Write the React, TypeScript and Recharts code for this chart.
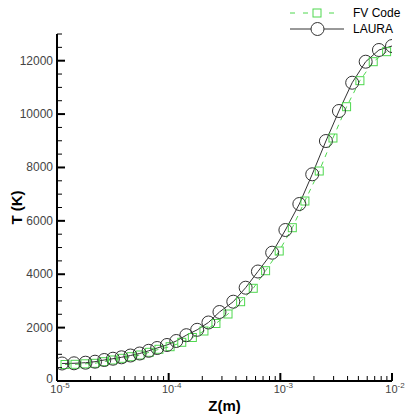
import { Legend, Line, LineChart, XAxis, YAxis } from "recharts";

// LAURA solution (black line, circle markers)
const lauraZ = [
  1.11e-5, 1.42e-5, 1.8e-5, 2.19e-5, 2.65e-5, 3.17e-5, 3.78e-5, 4.55e-5, 5.5e-5, 6.62e-5,
  7.89e-5, 9.66e-5, 1.17e-4, 1.44e-4, 1.8e-4, 2.27e-4, 2.85e-4, 3.79e-4, 4.89e-4, 6.3e-4,
  8.45e-4, 1.11e-3, 1.48e-3, 1.93e-3, 2.56e-3, 3.35e-3, 4.4e-3, 5.81e-3, 7.64e-3, 1.0e-2,
];
const lauraT = [
  656, 663, 686, 723, 787, 835, 888, 955, 1030, 1131,
  1236, 1349, 1499, 1716, 1918, 2192, 2585, 2971, 3495, 4102,
  4807, 5657, 6631, 7744, 8991, 10115, 11175, 11962, 12401, 12550,
];

// FV Code solution (green dashed line, square markers)
const fvZ = [
  1.18e-5, 1.45e-5, 1.78e-5, 2.17e-5, 2.61e-5, 3.14e-5, 3.8e-5, 4.6e-5, 5.54e-5, 6.7e-5,
  8.18e-5, 1.03e-4, 1.31e-4, 1.63e-4, 2.07e-4, 2.65e-4, 3.4e-4, 4.41e-4, 5.72e-4, 7.38e-4,
  9.77e-4, 1.28e-3, 1.66e-3, 2.23e-3, 2.96e-3, 3.92e-3, 5.16e-3, 6.79e-3, 8.95e-3,
];
const fvT = [
  618, 625, 644, 663, 723, 787, 850, 910, 974, 1075,
  1188, 1285, 1450, 1630, 1873, 2154, 2510, 2971, 3473, 4132,
  4870, 5743, 6743, 7867, 9103, 10276, 11251, 11963, 12338,
];

const seriesNames = ["FV Code", "LAURA"];
const xDecades = [1e-5, 1e-4, 1e-3, 1e-2];
const xExponents = ["-5", "-4", "-3", "-2"];
const yMajor = [0, 2000, 4000, 6000, 8000, 10000, 12000];
const yMax = 13000;

const lauraData = lauraZ.map((z, i) => ({ z, t: lauraT[i] }));
const fvData = fvZ.map((z, i) => ({ z, t: fvT[i] }));

// major + minor tick positions
const xTicks: number[] = [];
xDecades.forEach((d, i) => {
  xTicks.push(d);
  if (i < xDecades.length - 1) for (let m = 2; m <= 9; m++) xTicks.push(d * m);
});
const yTicks: number[] = [];
for (let v = 0; v <= yMax; v += 500) yTicks.push(v);

const GREEN = "#4fd84f";
const DARK = "#333";
const FONT = "Liberation Sans, Arial, sans-serif";

const XTick = (props: any) => {
  const { x, y, payload } = props;
  const idx = xDecades.findIndex((d) => Math.abs(Math.log10(d) - Math.log10(payload.value)) < 1e-6);
  const major = idx >= 0;
  return (
    <g>
      <line x1={x} x2={x} y1={y} y2={y - (major ? 8 : 5)} stroke="#000" strokeWidth={major ? 2 : 1} />
      {major && (
        <text x={x + 3} y={y + 12} textAnchor="middle" fontSize={11} fill="#444" fontFamily={FONT}>
          10<tspan dy={-5} fontSize={8}>{xExponents[idx]}</tspan>
        </text>
      )}
    </g>
  );
};

const YTick = (props: any) => {
  const { x, y, payload } = props;
  const major = yMajor.includes(payload.value);
  return (
    <g>
      <line x1={x} x2={x + (major ? 8 : 5)} y1={y} y2={y} stroke="#000" strokeWidth={major ? 2 : 1} />
      {major && (
        <text x={x - 4} y={y + (payload.value === 0 ? 2 : 4)} textAnchor="end" fontSize={12} fill="#444" fontFamily={FONT}>
          {payload.value}
        </text>
      )}
    </g>
  );
};

const YTitle = (props: any) => {
  const { viewBox } = props;
  const cy = viewBox.y + viewBox.height / 2;
  return (
    <text x={22} y={cy} transform={`rotate(-90, 22, ${cy})`} textAnchor="middle" fontSize={15} fontWeight="bold" fill="#000" fontFamily={FONT}>
      T (K)
    </text>
  );
};

const LauraDot = (props: any) => {
  const { cx, cy, index } = props;
  return <circle key={`l-${index}`} cx={cx} cy={cy} r={6.5} stroke={DARK} strokeWidth={1} fill="none" />;
};

const FvDot = (props: any) => {
  const { cx, cy, index } = props;
  return <rect key={`f-${index}`} x={cx - 4} y={cy - 4} width={8} height={8} stroke={GREEN} strokeWidth={1} fill="none" />;
};

const LegendBox = () => (
  <svg width={405} height={40} style={{ display: "block" }}>
    <line x1={290} x2={340} y1={13} y2={13} stroke={GREEN} strokeDasharray="5 8" />
    <rect x={313} y={9} width={8} height={8} stroke={GREEN} fill="white" />
    <text x={353} y={17} fontSize={12} fill="#000" fontFamily={FONT}>{seriesNames[0]}</text>
    <line x1={290} x2={344} y1={29} y2={29} stroke={DARK} />
    <circle cx={317.5} cy={29} r={6.5} stroke={DARK} fill="white" />
    <text x={353} y={33} fontSize={12} fill="#000" fontFamily={FONT}>{seriesNames[1]}</text>
  </svg>
);

export default function App() {
  return (
    <div style={{ position: "absolute", left: 0, top: 0, background: "#fff" }}>
      <LineChart width={405} height={415} margin={{ top: 34, right: 13, bottom: 0, left: 0 }}>
        <XAxis
          dataKey="z"
          type="number"
          scale="log"
          domain={[1e-5, 1e-2]}
          ticks={xTicks}
          interval={0}
          allowDataOverflow
          height={34}
          tickSize={0}
          tickMargin={0}
          tickLine={false}
          axisLine={{ stroke: "#000", strokeWidth: 2 }}
          tick={<XTick />}
          label={{ value: "Z(m)", position: "insideBottom", offset: 4, fontSize: 15, fontWeight: "bold", fill: "#000", fontFamily: FONT }}
        />
        <YAxis
          dataKey="t"
          type="number"
          domain={[0, yMax]}
          ticks={yTicks}
          interval={0}
          width={57}
          tickSize={0}
          tickMargin={0}
          tickLine={false}
          axisLine={{ stroke: "#000", strokeWidth: 2 }}
          tick={<YTick />}
          label={<YTitle />}
        />
        <Legend layout="horizontal" verticalAlign="middle" align="center" wrapperStyle={{ top: 0, left: 0, width: 405, height: 40 }} content={<LegendBox />} />
        <Line
          data={fvData}
          dataKey="t"
          name={seriesNames[0]}
          stroke={GREEN}
          strokeWidth={1}
          strokeDasharray="5 5"
          type="linear"
          dot={<FvDot />}
          isAnimationActive={false}
        />
        <Line
          data={lauraData}
          dataKey="t"
          name={seriesNames[1]}
          stroke={DARK}
          strokeWidth={1}
          type="linear"
          dot={<LauraDot />}
          isAnimationActive={false}
        />
      </LineChart>
    </div>
  );
}
